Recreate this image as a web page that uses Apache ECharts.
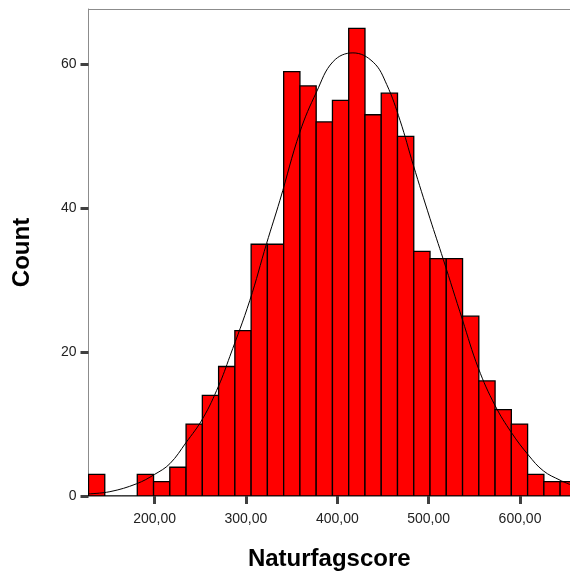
<!DOCTYPE html>
<html>
<head>
<meta charset="utf-8">
<script src="https://cdn.jsdelivr.net/npm/echarts@6/dist/echarts.min.js"></script>
<style>
html,body{margin:0;padding:0;background:#fff;}
#chart{width:570px;height:576px;}
</style>
</head>
<body>
<div id="chart"></div>
<script>
// Histogram bin edges (Naturfagscore)
var binEdges = [127.7,145.5,163.3,181.1,198.9,216.7,234.5,252.3,270.1,287.9,305.7,323.5,341.3,359.1,376.9,394.7,412.5,430.3,448.1,465.9,483.7,501.5,519.3,537.1,554.9,572.7,590.5,608.3,626.1,643.9,661.7];
// Counts per bin
var counts = [3,0,0,3,2,4,10,14,18,23,35,35,59,57,52,55,65,53,56,50,34,33,33,25,16,12,10,3,2,2];
// Normal curve points
var curveX = [127.7,151.1,180.3,200,216.8,234.3,252.9,270.1,282.4,304.3,322.6,337.2,359.1,377.4,395.5,417.1,439.4,454.1,468.7,483.2,501.4,516.0,537.0,554.3,572.6,590.7,609.1,625.5,643.8,654.7];
var curveY = [0.3,0.6,1.7,3.0,4.5,7.4,10.8,15.3,19.4,27.2,35.1,41.1,50.6,56.2,60.4,61.6,60.3,57.2,52.2,46.0,38.6,32.9,24.5,17.8,12.6,8.8,5.7,3.5,2.2,1.6];
// Ticks
var xTickValues = [200,300,400,500,600];
var xTickLabels = ['200,00','300,00','400,00','500,00','600,00'];
var yTickValues = [0,20,40,60];
var yTickLabels = ['0','20','40','60'];
var xTitle = 'Naturfagscore';
var yTitle = 'Count';

var barData = counts.map(function (c, i) { return [binEdges[i], binEdges[i + 1], c]; });
var curveData = curveX.map(function (x, i) { return [x, curveY[i]]; });

var FONT = '"Liberation Sans", Arial, sans-serif';
var chart = echarts.init(document.getElementById('chart'), null, {renderer: 'canvas'});
chart.setOption({
  animation: false,
  backgroundColor: '#ffffff',
  grid: {left: 88.5, top: 9, right: 0, bottom: 80, containLabel: false, outerBoundsMode: 'none'},
  xAxis: [{
    type: 'value', min: 127.7, max: 654.7, position: 'bottom',
    splitLine: {show: false},
    axisLine: {show: true, lineStyle: {color: '#8c8c8c', width: 1}},
    axisTick: {show: true, customValues: xTickValues, length: 8, inside: false,
      lineStyle: {color: '#404040', width: 3}},
    axisLabel: {show: true, customValues: xTickValues, margin: 16,
      fontFamily: FONT, fontSize: 14, color: '#222',
      formatter: function (v) { var i = xTickValues.indexOf(v); return i >= 0 ? xTickLabels[i] : ''; }},
    name: xTitle, nameLocation: 'middle', nameGap: 51,
    nameTextStyle: {fontFamily: FONT, fontSize: 24, fontWeight: 'bold', color: '#000'}
  }, {
    type: 'value', min: 127.7, max: 654.7, position: 'top',
    splitLine: {show: false},
    axisLine: {show: true, lineStyle: {color: '#8c8c8c', width: 1}},
    axisTick: {show: false}, axisLabel: {show: false}
  }],
  yAxis: {
    type: 'value', min: 0, max: 67.7,
    splitLine: {show: false},
    axisLine: {show: true, lineStyle: {color: '#8c8c8c', width: 1}},
    axisTick: {show: true, customValues: yTickValues, length: 8,
      lineStyle: {color: '#404040', width: 3}},
    axisLabel: {show: true, customValues: yTickValues, margin: 12,
      fontFamily: FONT, fontSize: 14, color: '#222',
      formatter: function (v) { var i = yTickValues.indexOf(v); return i >= 0 ? yTickLabels[i] : ''; }},
    name: yTitle, nameLocation: 'middle', nameGap: 54, nameRotate: 90,
    nameTextStyle: {fontFamily: FONT, fontSize: 24, fontWeight: 'bold', color: '#000'}
  },
  series: [{
    type: 'custom',
    xAxisIndex: 0,
    clip: true,
    data: barData,
    encode: {x: [0, 1], y: 2},
    renderItem: function (params, api) {
      var p0 = api.coord([api.value(0), api.value(2)]);
      var p1 = api.coord([api.value(1), 0]);
      return {
        type: 'rect',
        shape: {x: p0[0], y: p0[1], width: p1[0] - p0[0], height: p1[1] - p0[1]},
        style: {fill: '#ff0000', stroke: '#000000', lineWidth: 1.3}
      };
    }
  }, {
    type: 'line',
    xAxisIndex: 0,
    data: curveData,
    smooth: 0.4,
    showSymbol: false,
    symbol: 'none',
    clip: true,
    lineStyle: {color: '#000', width: 1},
    z: 5
  }]
});
</script>
</body>
</html>
